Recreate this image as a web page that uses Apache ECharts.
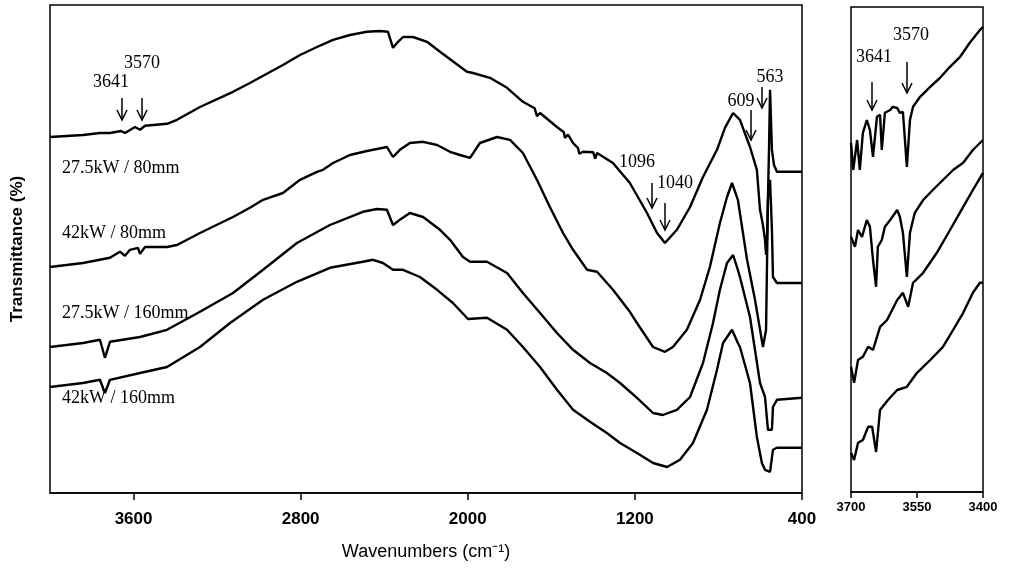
<!DOCTYPE html>
<html>
<head>
<meta charset="utf-8">
<script src="https://cdn.jsdelivr.net/npm/echarts@6/dist/echarts.min.js"></script>
<style>
html, body { margin: 0; padding: 0; background: #fff; }
#main { width: 1012px; height: 571px; }
</style>
</head>
<body>
<div id="main"></div>
<script>
// FTIR spectra, offset transmittance (arbitrary units), [wavenumber, T]
const main275_80 = [[4000,89.0],[3842,89.5],[3761,90.0],[3713,90.0],[3660,90.5],[3641,90.0],[3593,91.5],[3569,90.8],[3545,91.8],[3440,92.3],[3392,93.3],[3282,96.5],[3124,100.3],[3043,102.5],[2885,107.0],[2803,109.5],[2722,111.5],[2645,113.3],[2564,114.5],[2483,115.3],[2420,115.5],[2382,115.3],[2358,111.3],[2334,112.8],[2310,114.0],[2262,114.0],[2195,112.8],[2133,110.3],[2004,105.3],[1975,105.0],[1894,103.8],[1812,101.3],[1736,97.8],[1680,96.2],[1669,94.2],[1654,95.0],[1573,91.5],[1540,90.2],[1535,88.8],[1520,89.6],[1496,87.5],[1472,86.2],[1466,84.8],[1448,85.3],[1400,85.2],[1390,83.6],[1381,85.0],[1305,82.5],[1224,77.5],[1142,70.0],[1094,65.0],[1056,62.5],[999,65.8],[936,71.5],[874,79.0],[807,85.8],[769,91.3],[730,95.0],[697,93.3],[649,86.5],[616,80.8],[601,70.8],[587,67.0],[577,63.3],[572,59.5],[567,64.5],[558,85.8],[553,100.8],[548,100.3],[544,85.8],[534,82.0],[520,80.3],[400,80.3]];
const main42_80 = [[4000,56.5],[3842,57.5],[3713,58.8],[3665,60.3],[3641,59.3],[3617,60.8],[3579,61.3],[3569,59.8],[3545,61.5],[3440,61.5],[3392,62.0],[3282,65.0],[3124,69.0],[3043,71.3],[2980,73.3],[2885,75.0],[2803,78.3],[2722,80.3],[2693,80.8],[2645,82.5],[2564,84.5],[2483,85.5],[2387,86.5],[2358,84.0],[2325,85.8],[2277,87.5],[2214,87.8],[2147,87.0],[2085,85.3],[2037,84.5],[1989,83.8],[1942,87.5],[1860,89.0],[1798,88.3],[1736,85.0],[1669,78.3],[1607,71.5],[1544,65.0],[1496,60.8],[1429,55.8],[1381,55.3],[1305,50.8],[1224,45.3],[1190,42.5],[1113,36.5],[1056,35.3],[1018,36.5],[951,40.8],[888,48.3],[841,56.5],[793,67.5],[759,74.0],[735,77.5],[707,73.3],[663,58.3],[625,48.3],[587,36.5],[572,40.8],[563,73.3],[553,78.3],[544,65.8],[539,54.0],[520,52.5],[400,52.5]];
const main275_160 = [[4000,36.5],[3842,37.5],[3761,38.3],[3737,33.8],[3713,37.8],[3569,39.0],[3440,40.8],[3282,45.3],[3124,50.0],[2980,55.8],[2818,62.5],[2660,67.0],[2502,70.3],[2435,71.0],[2387,70.8],[2358,67.0],[2325,68.3],[2277,70.0],[2214,69.0],[2133,65.8],[2085,63.3],[2023,59.0],[1989,57.8],[1908,57.8],[1812,55.0],[1736,50.0],[1654,45.0],[1573,40.0],[1496,35.8],[1415,32.5],[1334,30.0],[1271,27.5],[1190,23.8],[1113,20.0],[1066,19.5],[999,20.8],[936,24.0],[874,32.5],[826,42.5],[793,50.8],[759,57.5],[730,59.5],[707,55.8],[697,54.0],[649,44.0],[601,27.5],[577,24.0],[563,15.8],[544,15.8],[539,21.5],[520,23.3],[400,23.8]];
const main42_160 = [[4000,26.5],[3842,27.5],[3761,28.3],[3737,25.0],[3713,28.3],[3569,30.0],[3440,31.5],[3282,36.5],[3138,42.5],[2980,48.3],[2818,52.8],[2660,56.3],[2502,57.8],[2454,58.3],[2406,57.5],[2358,55.8],[2310,55.8],[2229,54.0],[2147,50.8],[2071,47.5],[1999,43.5],[1908,43.8],[1812,40.8],[1736,36.5],[1654,31.5],[1573,25.8],[1496,20.8],[1415,17.8],[1334,15.0],[1271,12.5],[1190,10.0],[1113,7.5],[1046,6.5],[984,8.3],[922,12.5],[855,20.8],[807,30.8],[778,37.5],[735,40.8],[707,37.5],[697,36.5],[649,27.5],[616,14.0],[592,7.5],[577,5.8],[553,5.3],[539,10.8],[520,11.3],[400,11.3]];

// expanded OH region 3700-3400
const zoom275_80 = [[3700,87.3],[3695,80.5],[3686,88.0],[3680,80.5],[3673,89.8],[3664,93.0],[3657,90.5],[3650,83.8],[3641,93.8],[3634,94.3],[3630,85.5],[3623,94.8],[3611,95.5],[3605,96.3],[3595,96.0],[3589,94.8],[3582,95.0],[3573,81.3],[3566,93.0],[3559,96.3],[3543,98.8],[3520,101.3],[3498,103.5],[3475,106.3],[3452,108.8],[3430,112.3],[3407,115.5],[3400,116.3]];
const zoom42_80 = [[3700,63.8],[3691,61.3],[3684,65.5],[3675,63.8],[3664,68.0],[3657,66.3],[3650,58.0],[3643,51.3],[3639,61.3],[3630,63.0],[3623,66.3],[3611,68.0],[3595,70.5],[3589,68.8],[3582,64.8],[3573,53.8],[3566,64.8],[3555,69.8],[3536,73.0],[3514,75.5],[3491,78.0],[3468,80.5],[3445,82.3],[3423,85.5],[3400,88.0]];
const zoom275_160 = [[3700,31.3],[3693,27.3],[3684,33.0],[3673,33.8],[3661,36.3],[3650,35.5],[3634,41.3],[3618,43.0],[3595,48.0],[3582,49.8],[3570,46.3],[3559,52.3],[3536,54.8],[3505,59.8],[3475,65.5],[3445,71.3],[3423,75.5],[3400,79.8]];
const zoom42_160 = [[3700,9.8],[3693,8.0],[3684,12.3],[3673,13.0],[3661,16.3],[3652,16.3],[3643,10.0],[3634,20.5],[3616,23.0],[3595,25.5],[3573,26.3],[3550,29.8],[3520,33.0],[3491,36.3],[3468,40.5],[3445,44.8],[3423,49.8],[3407,52.3],[3400,52.3]];

const mainTicks = [3600, 2800, 2000, 1200, 400];
const zoomTicks = [3700, 3550, 3400];

const sampleNames = ['27.5kW / 80mm', '42kW / 80mm', '27.5kW / 160mm', '42kW / 160mm'];
const peakNames = ['3641', '3570', '1096', '1040', '609', '563'];

const chart = echarts.init(document.getElementById('main'));

function spectrum(data, idx) {
    return {
        type: 'line',
        xAxisIndex: idx,
        yAxisIndex: idx,
        data: data,
        showSymbol: false,
        symbol: 'none',
        silent: true,
        lineStyle: { color: '#000', width: 2.4 }
    };
}

function label(text, x, y, align) {
    return {
        type: 'text', x: x, y: y, silent: true,
        style: {
            text: text, fill: '#000',
            font: '18px "Liberation Serif", serif',
            align: align || 'center', verticalAlign: 'middle',
            textAlign: align || 'center', textVerticalAlign: 'middle'
        }
    };
}

function arrow(x, y1, y2) {
    return {
        type: 'group', silent: true,
        children: [
            { type: 'line', shape: { x1: x, y1: y1, x2: x, y2: y2 }, style: { stroke: '#000', lineWidth: 1.5 } },
            { type: 'polyline', shape: { points: [[x - 5, y2 - 10], [x, y2], [x + 5, y2 - 10]] }, style: { stroke: '#000', lineWidth: 1.5, fill: null } }
        ]
    };
}

const tickFont = { color: '#000', fontFamily: '"Liberation Sans", Arial', fontWeight: 'bold', formatter: v => String(v) };

let option = {
    animation: false,
    backgroundColor: '#fff',
    grid: [
        { left: 50, right: 210, top: 5, bottom: 78, show: true, borderColor: '#000', borderWidth: 1.5 },
        { left: 851, right: 29, top: 7, bottom: 79, show: true, borderColor: '#000', borderWidth: 1.5 }
    ],
    xAxis: [
        {
            gridIndex: 0, type: 'value', min: 400, max: 4000, inverse: true,
            axisLine: { show: true, onZero: false, lineStyle: { color: '#000', width: 1.5 } },
            axisTick: { show: true, customValues: mainTicks, length: 7, lineStyle: { color: '#000', width: 1.5 } },
            axisLabel: Object.assign({ customValues: mainTicks, margin: 18, fontSize: 17 }, tickFont),
            splitLine: { show: false },
            name: 'Wavenumbers (cm⁻¹)', nameLocation: 'middle', nameGap: 50,
            nameTextStyle: { color: '#000', fontSize: 18, fontFamily: '"Liberation Sans", Arial' }
        },
        {
            gridIndex: 1, type: 'value', min: 3400, max: 3700, inverse: true,
            axisLine: { show: true, onZero: false, lineStyle: { color: '#000', width: 1.5 } },
            axisTick: { show: true, customValues: zoomTicks, length: 6, lineStyle: { color: '#000', width: 1.5 } },
            axisLabel: Object.assign({ customValues: zoomTicks, margin: 9, fontSize: 13 }, tickFont),
            splitLine: { show: false }
        }
    ],
    yAxis: [
        {
            gridIndex: 0, type: 'value', min: 0, max: 122,
            axisLine: { show: false }, axisTick: { show: false }, axisLabel: { show: false }, splitLine: { show: false },
            name: 'Transmittance (%)', nameLocation: 'middle', nameGap: 24,
            nameTextStyle: { color: '#000', fontSize: 17, fontWeight: 'bold', fontFamily: '"Liberation Sans", Arial' }
        },
        {
            gridIndex: 1, type: 'value', min: 0, max: 121.25,
            axisLine: { show: false }, axisTick: { show: false }, axisLabel: { show: false }, splitLine: { show: false }
        }
    ],
    series: [
        spectrum(main275_80, 0),
        spectrum(main42_80, 0),
        spectrum(main275_160, 0),
        spectrum(main42_160, 0),
        spectrum(zoom275_80, 1),
        spectrum(zoom42_80, 1),
        spectrum(zoom275_160, 1),
        spectrum(zoom42_160, 1)
    ],
    graphic: [
        label(sampleNames[0], 62, 168, 'left'),
        label(sampleNames[1], 62, 233, 'left'),
        label(sampleNames[2], 62, 313, 'left'),
        label(sampleNames[3], 62, 398, 'left'),
        label(peakNames[0], 111, 82), arrow(122, 98, 120),
        label(peakNames[1], 142, 63), arrow(142, 98, 120),
        label(peakNames[2], 637, 162), arrow(652, 183, 208),
        label(peakNames[3], 675, 183), arrow(665, 203, 230),
        label(peakNames[4], 741, 101), arrow(751, 110, 140),
        label(peakNames[5], 770, 77), arrow(762, 87, 108),
        label(peakNames[0], 874, 57), arrow(872, 82, 110),
        label(peakNames[1], 911, 35), arrow(907, 62, 93)
    ]
};

chart.setOption(option);
</script>
</body>
</html>
